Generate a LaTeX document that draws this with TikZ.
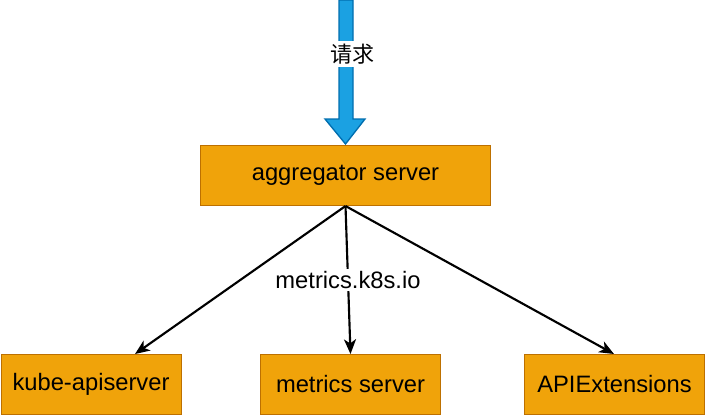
\documentclass[tikz,border=0pt]{standalone}
\usepackage{fontspec}
\setmainfont{Liberation Sans}
\newfontfamily\cjk{Noto Sans CJK SC}
\usepackage{tikz}
\usetikzlibrary{arrows.meta,positioning,calc}
\definecolor{boxfill}{HTML}{F0A30A}
\definecolor{boxline}{HTML}{BD7000}
\definecolor{reqfill}{HTML}{1BA1E2}
\definecolor{reqline}{HTML}{006EAF}
\tikzset{
	srvbox/.style={draw=boxline, fill=boxfill, line width=0.75pt, inner sep=0pt,
		minimum height=45pt, font=\fontsize{17.8}{21}\selectfont},
	arrow/.style={-{Stealth[length=11pt, width=9pt, inset=3pt]}, line width=1.6pt},
	tag/.style={fill=white, inner sep=2pt, font=\fontsize{17.8}{21}\selectfont}
}
\begin{document}
\begin{tikzpicture}[x=0.75pt, y=-0.75pt]
		\useasboundingbox (0,0) rectangle (705,415);
		
		%% -- aggregator server
		\node[srvbox, minimum width=217.5pt, anchor=north west] (agg) at (200,145)
		{aggregator server};
		
		%% -- backend servers
		\node[srvbox, minimum width=135pt, anchor=north west] (kube) at (0.5,354)
		{kube-apiserver};
		\node[srvbox, minimum width=135pt, anchor=north west] (metrics) at (260,354)
		{metrics server};
		\node[srvbox, minimum width=135pt, anchor=north west] (apiext) at (524,354)
		{APIExtensions};
		
		%% -- incoming request block arrow
		\coordinate (reqtip) at ($(agg.north)+(0,-1)$);
		\draw[reqline, fill=reqfill, line width=1pt, line join=miter]
		(339,0) -- (353,0) -- (353,119) -- (365,119) -- (reqtip)
		-- (325,119) -- (339,119) -- cycle;
		\node[tag, font=\cjk\fontsize{16.5}{20}\selectfont] (req) at (352,54) {请求};
		
		%% -- routing arrows
		\draw[arrow] (agg.south) -- (kube.north -| 135,0);
		\draw[arrow] (agg.south) -- (metrics.north)
		node[tag, pos=0.5] (grp) {metrics.k8s.io};
		\draw[arrow] (agg.south) -- (apiext.north -| 614,0);
		
	\end{tikzpicture}
\end{document}
